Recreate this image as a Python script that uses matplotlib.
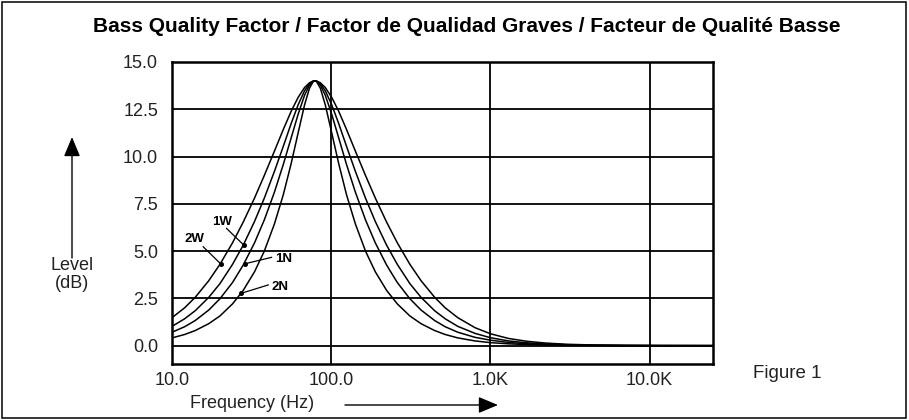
import matplotlib
matplotlib.use("Agg")
import matplotlib.pyplot as plt
from matplotlib.patches import Rectangle
from matplotlib.ticker import NullLocator

plt.rcParams['font.family'] = ['Liberation Sans', 'DejaVu Sans']

# ---------------- data ----------------
FREQ = [10, 12, 14, 17, 20, 24, 28, 33, 38, 44, 50, 56, 62, 68, 73, 77, 79,
        81, 85.5, 91.8, 100.7, 111.5, 124.8, 141.8, 164.2, 189.1, 222.9, 260,
        312, 367, 446, 520, 624,
        800, 1000, 1300, 1700, 2200, 3000, 4500, 7000, 12000, 25000]

LEVEL_2W = [1.48, 2.00, 2.56, 3.43, 4.30, 5.44, 6.53, 7.81, 9.00, 10.29, 11.43, 12.39, 13.13, 13.65, 13.90, 13.99, 14.00,
            13.99, 13.90, 13.65, 13.13, 12.39, 11.43, 10.29, 9.00, 7.81, 6.53, 5.44, 4.30, 3.43, 2.56, 2.00, 1.48,
            0.95, 0.63, 0.38, 0.23, 0.14, 0.074, 0.033, 0.014, 0.005, 0.001]
LEVEL_1W = [1.02, 1.42, 1.85, 2.55, 3.28, 4.30, 5.31, 6.57, 7.80, 9.22, 10.54, 11.74, 12.74, 13.48, 13.85, 13.99, 14.00,
            13.99, 13.85, 13.48, 12.74, 11.74, 10.54, 9.22, 7.80, 6.57, 5.31, 4.30, 3.28, 2.55, 1.85, 1.42, 1.02,
            0.65, 0.42, 0.25, 0.15, 0.09, 0.049, 0.022, 0.009, 0.003, 0.001]
LEVEL_1N = [0.71, 1.00, 1.33, 1.88, 2.48, 3.34, 4.26, 5.44, 6.65, 8.12, 9.58, 10.98, 12.24, 13.24, 13.77, 13.98, 14.00,
            13.98, 13.77, 13.24, 12.24, 10.98, 9.58, 8.12, 6.65, 5.44, 4.26, 3.34, 2.48, 1.88, 1.33, 1.00, 0.71,
            0.44, 0.29, 0.17, 0.10, 0.061, 0.033, 0.015, 0.006, 0.002, 0.0005]
LEVEL_2N = [0.41, 0.59, 0.80, 1.16, 1.57, 2.21, 2.92, 3.91, 5.00, 6.44, 7.98, 9.62, 11.26, 12.73, 13.61, 13.96, 14.00,
            13.96, 13.61, 12.73, 11.26, 9.62, 7.98, 6.44, 5.00, 3.91, 2.92, 2.21, 1.57, 1.16, 0.80, 0.59, 0.41,
            0.25, 0.16, 0.097, 0.057, 0.034, 0.018, 0.008, 0.003, 0.001, 0.0003]

SERIES = [LEVEL_2W, LEVEL_1W, LEVEL_1N, LEVEL_2N]

CURVE_LABELS = ["2W", "1W", "1N", "2N"]
LABEL_TEXT_POS = [(13.9, 5.62), (20.5, 6.55), (49.9, 4.58), (47.5, 3.12)]
LEADER_START = [(15.7, 5.23), (22.0, 6.2), (42.2, 4.67), (40.2, 3.21)]
LEADER_END = [(20.2, 4.33), (28.4, 5.30), (28.7, 4.33), (27.0, 2.76)]

X_TICKS = [10, 100, 1000, 10000]
X_TICK_LABELS = ["10.0", "100.0", "1.0K", "10.0K"]
Y_TICKS = [0.0, 2.5, 5.0, 7.5, 10.0, 12.5, 15.0]

TITLE = "Bass Quality Factor / Factor de Qualidad Graves / Facteur de Qualité Basse"

# ---------------- figure ----------------
W, H = 909, 420
fig = plt.figure(figsize=(W / 100, H / 100), dpi=100)
fig.patch.set_facecolor("white")

# outer frame
fig.add_artist(Rectangle((2 / W, 2 / H), 904 / W, 416 / H, transform=fig.transFigure,
                         fill=False, edgecolor="black", lw=1.1))

ax = fig.add_axes([172 / W, 56 / H, 541 / W, 302 / H])
for vals in SERIES:
    ax.plot(FREQ, vals, color="black", lw=1.1, solid_joinstyle="round")

ax.set_xscale("log")
ax.set_xlim(10, 25000)
ax.set_ylim(-0.97, 15)
ax.set_xticks(X_TICKS)
ax.set_xticklabels(X_TICK_LABELS)
ax.xaxis.set_minor_locator(NullLocator())
ax.set_yticks(Y_TICKS)
ax.set_yticklabels([f"{v:.1f}" for v in Y_TICKS])
ax.tick_params(axis="both", length=0, labelsize=13, colors="#222222")
ax.tick_params(axis="y", pad=10)
ax.tick_params(axis="x", pad=6)
ax.grid(True, color="black", lw=1.3)
for s in ax.spines.values():
    s.set_linewidth(1.8)
    s.set_color("black")

# curve labels with leader lines
for lab, tp, ls, le in zip(CURVE_LABELS, LABEL_TEXT_POS, LEADER_START, LEADER_END):
    ax.text(tp[0], tp[1], lab, fontsize=9.5, fontweight="bold", ha="center", va="center")
    ax.plot([ls[0], le[0]], [ls[1], le[1]], color="black", lw=0.9)
    ax.plot([le[0]], [le[1]], "o", color="black", ms=2.6)

# texts
fig.text(467 / W, 1 - 27 / H, TITLE, fontsize=15, fontweight="bold", ha="center", va="center")
fig.text(72 / W, 1 - 266 / H, "Level", fontsize=13, ha="center", va="center", color="#222222")
fig.text(72 / W, 1 - 284 / H, "(dB)", fontsize=13, ha="center", va="center", color="#222222")
fig.text(753 / W, 1 - 374 / H, "Figure 1", fontsize=13.5, ha="left", va="center", color="#222222")
fig.text(190 / W, 1 - 404 / H, "Frequency (Hz)", fontsize=13, ha="left", va="center", color="#222222")

# arrows
fig.add_artist(plt.Annotation("", xy=(72, H - 137), xytext=(72, H - 258), xycoords="figure pixels",
                              textcoords="figure pixels",
                              arrowprops=dict(arrowstyle="-|>,head_length=1.2,head_width=0.5",
                                              color="black", lw=1.0, shrinkA=0, shrinkB=0)))
fig.add_artist(plt.Annotation("", xy=(498, H - 405), xytext=(345, H - 405), xycoords="figure pixels",
                              textcoords="figure pixels",
                              arrowprops=dict(arrowstyle="-|>,head_length=1.2,head_width=0.5",
                                              color="black", lw=1.0, shrinkA=0, shrinkB=0)))

fig.savefig("out.png", dpi=100)
